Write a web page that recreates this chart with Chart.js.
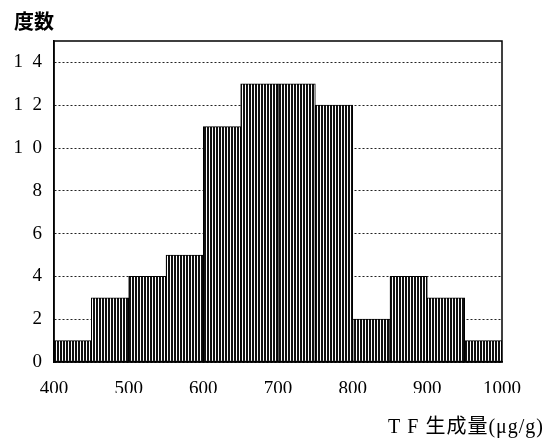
<!DOCTYPE html>
<html>
<head>
<meta charset="utf-8">
<script src="https://cdn.jsdelivr.net/npm/chart.js@4/dist/chart.umd.min.js"></script>
<style>
  body { margin: 0; background: #fff; }
</style>
</head>
<body>
<canvas id="chartHist" width="553" height="442"></canvas>
<script>
// TF production histogram, bins of 50 ug/g
const binStarts = [400, 450, 500, 550, 600, 650, 700, 750, 800, 850, 900, 950];
const binWidth = 50;
const counts = [1, 3, 4, 5, 11, 13, 13, 12, 2, 4, 3, 1];
const xTicks = [400, 500, 600, 700, 800, 900, 1000];
const yTicks = [0, 2, 4, 6, 8, 10, 12, 14];
const yTitle = '度数';
const xTitle = 'T F 生成量(μg/g)';

Chart.defaults.color = '#000';

// vertical stripe fill like the scanned hatching
function makeStripes() {
  const pc = document.createElement('canvas');
  pc.width = 3; pc.height = 8;
  const pctx = pc.getContext('2d');
  pctx.fillStyle = '#fff';
  pctx.fillRect(0, 0, 3, 8);
  pctx.fillStyle = '#111';
  pctx.fillRect(0, 0, 2, 8);
  return pctx.createPattern(pc, 'repeat');
}

const boxPlugin = {
  id: 'boxPlugin',
  afterDatasetsDraw(chart) {
    const { ctx, chartArea: a } = chart;
    ctx.save();
    ctx.strokeStyle = '#000';
    ctx.lineWidth = 1.5;
    ctx.strokeRect(a.left, a.top, a.right - a.left, a.bottom - a.top);
    ctx.restore();
  },
  afterDraw(chart) {
    const ctx = chart.ctx;
    ctx.save();
    ctx.fillStyle = '#000';
    ctx.font = '20px "Liberation Serif", "Noto Sans CJK JP"';
    ctx.letterSpacing = '1px';
    ctx.textAlign = 'right';
    ctx.textBaseline = 'middle';
    ctx.fillText(xTitle, chart.width - 9, chart.height - 14);
    ctx.restore();
  }
};

const canvasHist = document.getElementById('chartHist');
new Chart(canvasHist, {
  type: 'bar',
  data: {
    datasets: [{
      data: binStarts.map((s, i) => ({ x: s + binWidth / 2, y: counts[i] })),
      backgroundColor: makeStripes(),
      borderColor: '#000',
      borderWidth: 1,
      borderSkipped: false,
      barPercentage: 1,
      categoryPercentage: 1
    }]
  },
  options: {
    responsive: false,
    devicePixelRatio: 1,
    animation: false,
    layout: { padding: { left: 14, right: 51, top: 0, bottom: 49 } },
    plugins: {
      legend: { display: false },
      tooltip: { enabled: false },
      title: {
        display: true,
        text: yTitle,
        align: 'start',
        color: '#000',
        font: { family: '"Noto Sans CJK JP"', size: 20, weight: 'bold', lineHeight: 1.2 },
        padding: { top: 9, bottom: 8 }
      }
    },
    scales: {
      x: {
        type: 'linear',
        offset: false,
        min: xTicks[0],
        max: xTicks[xTicks.length - 1],
        afterBuildTicks: (axis) => { axis.ticks = xTicks.map(v => ({ value: v })); },
        afterFit: (axis) => { axis.height = 31; },
        grid: { display: false },
        border: { display: true, color: '#000', width: 1.5 },
        ticks: {
          font: { family: '"Liberation Serif"', size: 19 },
          color: '#000',
          padding: 8,
          maxRotation: 0,
          callback: (v) => String(v)
        }
      },
      y: {
        min: 0,
        max: 15,
        afterBuildTicks: (axis) => { axis.ticks = yTicks.map(v => ({ value: v })); },
        afterFit: (axis) => { axis.width = 40; },
        grid: { color: '#222', lineWidth: 1, drawTicks: false },
        border: { display: true, color: '#000', width: 1.5, dash: [2, 2] },
        ticks: {
          font: { family: '"Liberation Serif"', size: 19 },
          color: '#000',
          padding: 12,
          callback: (v) => String(v).split('').join('\u2002')
        }
      }
    }
  },
  plugins: [boxPlugin]
});
</script>
</body>
</html>
